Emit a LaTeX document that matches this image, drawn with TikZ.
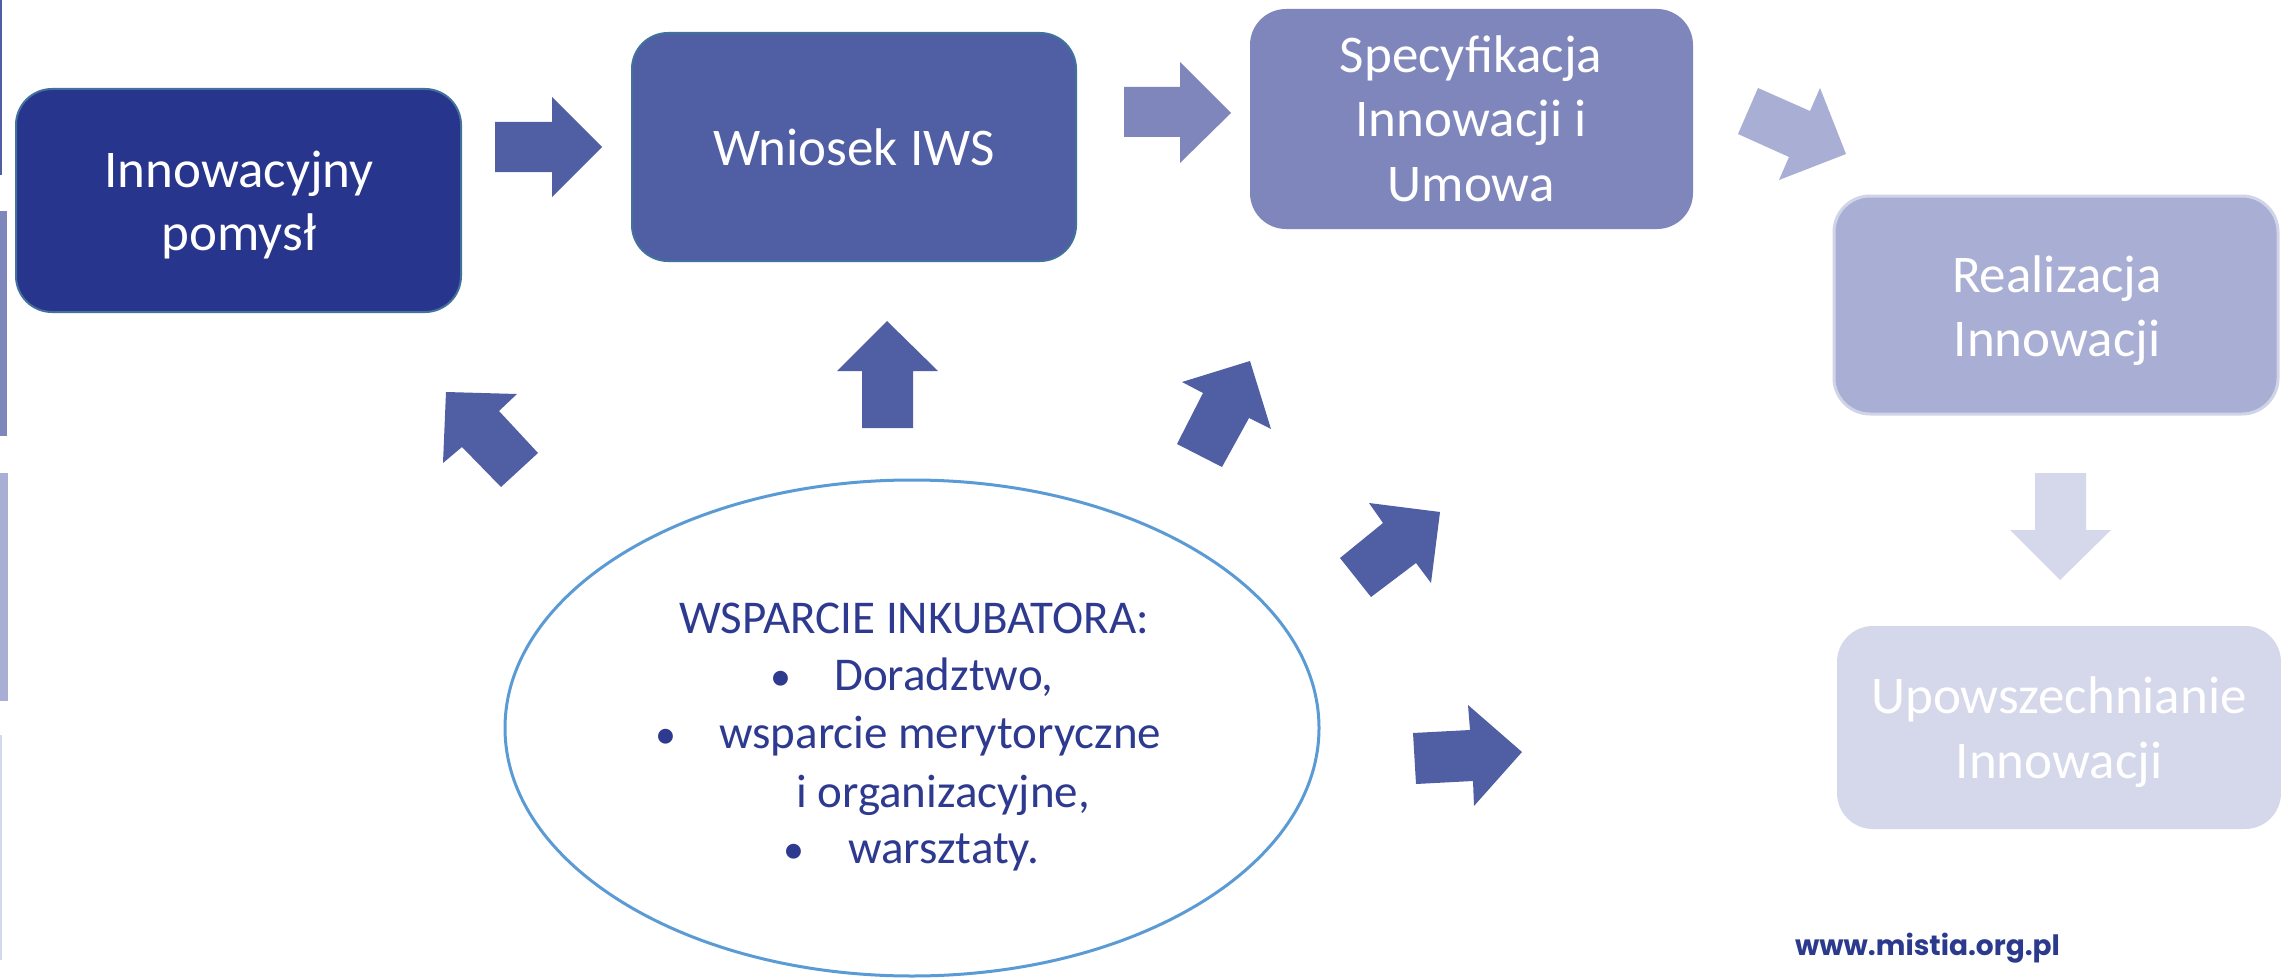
\documentclass[tikz,border=0pt]{standalone}
\usepackage{fontspec}
\setmainfont{Carlito}
\newfontfamily\urlfont{Poppins}
\definecolor{cNavy}{RGB}{40,53,140}
\definecolor{cTwo}{RGB}{80,95,164}
\definecolor{cThree}{RGB}{127,134,188}
\definecolor{cFour}{RGB}{169,174,212}
\definecolor{cFive}{RGB}{213,215,234}
\definecolor{cEdge}{RGB}{65,113,156}
\definecolor{cFourEdge}{RGB}{208,212,232}
\definecolor{cEll}{RGB}{91,155,213}
\definecolor{cEllText}{RGB}{46,58,143}
\definecolor{cUrl}{RGB}{43,58,140}
\usetikzlibrary{shapes.geometric}
\begin{document}
\begin{tikzpicture}[x=1pt,y=-1pt,
  stagebox/.style={rectangle, rounded corners=36pt, inner sep=0pt},
  boxtext/.style={text=white, font=\fontsize{53}{64}\selectfont, anchor=base, inner sep=0pt},
  elltext/.style={text=cEllText, font=\fontsize{47}{58}\selectfont, anchor=base west, inner sep=0pt},
  bullettext/.style={text=cEllText, font=\fontsize{42}{58}\selectfont, anchor=base, inner sep=0pt}]
\useasboundingbox (0,0) rectangle (2281,979);
\fill[white] (0,0) rectangle (2281,979);
% left edge remnants
\fill[cTwo] (0,0) rectangle (2,175);
\fill[cThree] (0,211) rectangle (7,436);
\fill[cFour] (0,473) rectangle (8,701);
\fill[cFive] (0,735) rectangle (2,960);
% boxes
\node[stagebox, fill=cNavy, draw=cEdge, line width=2pt, minimum width=445pt, minimum height=223pt] (b1) at (238.5,200.5) {};
\node[stagebox, fill=cTwo, draw=cEdge, line width=2pt, minimum width=444pt, minimum height=228pt] (b2) at (854,147) {};
\node[stagebox, fill=cThree, minimum width=443pt, minimum height=220pt] (b3) at (1471.5,119) {};
\node[stagebox, fill=cFour, draw=cFourEdge, line width=3pt, minimum width=444pt, minimum height=218pt] (b4) at (2056,305) {};
\node[stagebox, fill=cFive, minimum width=444pt, minimum height=203pt] (b5) at (2059,727.5) {};
% box texts
\node[boxtext] (t1a) at (239,187) {Innowacyjny};
\node[boxtext] (t1b) at (239,250) {pomysł};
\node[boxtext] (t2) at (854,165) {Wniosek IWS};
\node[boxtext] (t3a) at (1471,73) {Specyfikacja};
\node[boxtext] (t3b) at (1471,137) {Innowacji i};
\node[boxtext] (t3c) at (1471,201) {Umowa};
\node[boxtext] (t4a) at (2057,292) {Realizacja};
\node[boxtext] (t4b) at (2057,356) {Innowacji};
\node[boxtext] (t5a) at (2059,713) {Upowszechnianie};
\node[boxtext] (t5b) at (2059,778) {Innowacji};
% block arrows
\fill[cTwo] (495,122) -- (552,122) -- (552,97) -- (602,147) -- (552,197) -- (552,172) -- (495,172) -- cycle;
\fill[cThree] (1124,87) -- (1180,87) -- (1180,62) -- (1231,113) -- (1180,163) -- (1180,137) -- (1124,137) -- cycle;
\fill[cFour] (1758,88) -- (1810,111) -- (1820,88) -- (1846,154) -- (1779,180) -- (1789,157) -- (1738,134) -- cycle;
\fill[cFive] (2035,473) -- (2086,473) -- (2086,530) -- (2111,530) -- (2060,580) -- (2010,530) -- (2035,530) -- cycle;
\fill[cTwo] (446,392) -- (517,394) -- (499,411) -- (538,453) -- (501,487) -- (462,447) -- (443,463) -- cycle;
\fill[cTwo] (887,321) -- (938,371) -- (913,371) -- (913,428) -- (862,428) -- (862,371) -- (837,371) -- cycle;
\fill[cTwo] (1182,382) -- (1250,361) -- (1271,429) -- (1249,418) -- (1222,467) -- (1177,444) -- (1203,393) -- cycle;
\fill[cTwo] (1369,503) -- (1440,512) -- (1431,583) -- (1416,563) -- (1371,597) -- (1340,558) -- (1383,523) -- cycle;
\fill[cTwo] (1413,733) -- (1470,730) -- (1468,705) -- (1522,752) -- (1474,806) -- (1473,781) -- (1416,784) -- cycle;
% ellipse
\node[ellipse, draw=cEll, line width=3pt, minimum width=814pt, minimum height=496pt, inner sep=0pt] (ell) at (912,728) {};
\node[text=cEllText, font=\fontsize{47}{58}\selectfont, anchor=base, inner sep=0pt] (eh) at (914,633) {WSPARCIE INKUBATORA:};
\node[bullettext] (bu1) at (781,690) {•};
\node[elltext] (l1) at (834,690) {Doradztwo,};
\node[bullettext] (bu2) at (666,748) {•};
\node[elltext] (l2) at (719,748) {wsparcie merytoryczne};
\node[elltext] (l3) at (796,807) {i organizacyjne,};
\node[bullettext] (bu3) at (794,863) {•};
\node[elltext] (l4) at (848,863) {warsztaty.};
% url
\node[text=cUrl, font=\urlfont\bfseries\fontsize{28}{34}\selectfont, anchor=base west, inner sep=0pt] (url) at (1795,955) {www.mistia.org.pl};
\end{tikzpicture}
\end{document}
